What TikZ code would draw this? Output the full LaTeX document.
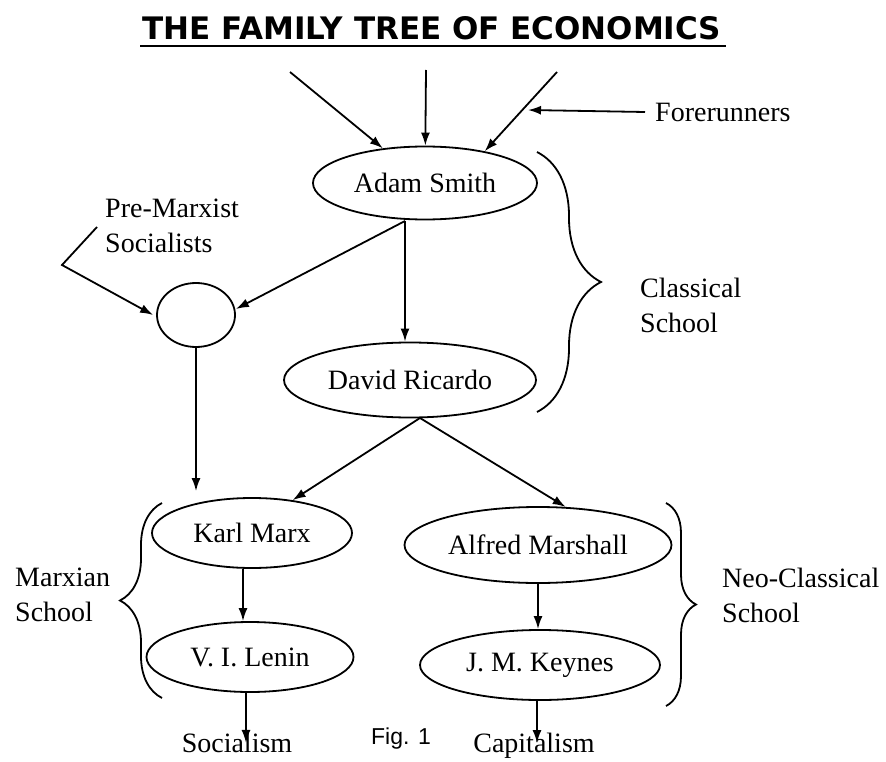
\documentclass[tikz,border=0pt]{standalone}
\usepackage{fontspec}
\setmainfont{Liberation Serif}
\newfontfamily\titlefont{DejaVu Sans}
\newfontfamily\figfont{Liberation Sans}
\usetikzlibrary{shapes.geometric,arrows.meta,decorations.pathreplacing}
\begin{document}
\begin{tikzpicture}[x=1pt,y=-1pt,
  person/.style={ellipse,draw,line width=1.8pt,inner sep=0pt,font=\fontsize{28}{30}\selectfont},
  lbl/.style={font=\fontsize{28}{35}\selectfont,align=left,inner sep=0pt},
  arr/.style={line width=1.8pt,-{Latex[length=13pt,width=9pt]}},
  brc/.style={line width=1.8pt,decorate,decoration={brace,amplitude=#1}}]
\useasboundingbox (0,0) rectangle (886,762);
% title
\node[font=\titlefont\bfseries\fontsize{31}{34}\selectfont,inner sep=0pt] (title) at (432,28) {THE FAMILY TREE OF ECONOMICS};
\coordinate (ul1) at (140,46);
\coordinate (ul2) at (726,46);
\draw[line width=2.5pt] (ul1) -- (ul2);
% nodes
\node[person,minimum width=224pt,minimum height=73pt] (smith) at (425,183) {Adam Smith};
\node[person,minimum width=252pt,minimum height=75pt] (rica) at (410,380) {David Ricardo};
\node[ellipse,draw,line width=1.8pt,minimum width=78pt,minimum height=64pt,inner sep=0pt] (circ) at (196,315) {};
\node[person,minimum width=200pt,minimum height=70pt] (marx) at (252,533) {Karl Marx};
\node[person,minimum width=207pt,minimum height=70pt] (lenin) at (250,657) {V. I. Lenin};
\node[person,minimum width=267pt,minimum height=76pt] (marsh) at (538,545) {Alfred Marshall};
\node[person,minimum width=240pt,minimum height=70pt] (keyn) at (540,665) {J. M. Keynes};
% labels
\node[lbl,anchor=west] (fore) at (655,112) {Forerunners};
\node[lbl,anchor=west] (class) at (640,305) {Classical\\School};
\node[lbl,anchor=west] (prem) at (105,226) {Pre-Marxist\\Socialists};
\node[lbl,anchor=west] (marxian) at (15,595) {Marxian\\School};
\node[lbl,anchor=west] (neo) at (722,595) {Neo-Classical\\School};
\node[lbl] (soc) at (237,743) {Socialism};
\node[lbl] (cap) at (534,746) {Capitalism};
\node[font=\figfont\fontsize{23}{26}\selectfont,inner sep=0pt] (fig) at (401,739) {Fig. 1};
% forerunner arrows
\coordinate (f1) at (290,72);
\coordinate (f2) at (426,70);
\coordinate (f3) at (557,72);
\coordinate (fx) at (528,110);
\draw[arr] (f1) -- (smith);
\draw[arr] (f2) -- (smith);
\draw[arr] (f3) -- (smith.28);
\draw[arr] ([xshift=-10pt]fore.west) -- (fx);
% pre-marxist
\coordinate (pm1) at (97,227);
\coordinate (pm2) at (62,265);
\draw[arr] (pm1) -- (pm2) -- ([xshift=-3pt]circ.west);
% smith arrows
\coordinate (asb) at (405,221);
\draw[arr] (asb) -- ([yshift=6pt]circ.east);
\draw[arr] (asb) -- (asb |- rica.north);
% circle to marx
\draw[arr] (circ.south) -- ([yshift=6pt]circ.south |- marx.north);
% ricardo arrows
\coordinate (rb) at (420,418);
\draw[arr] (rb) -- (marx.39);
\draw[arr] (rb) -- (marsh.54);
% lower arrows
\draw[arr] ([xshift=-9pt]marx.south) -- ([xshift=-9pt]marx.south |- lenin.north);
\draw[arr] ([xshift=-4pt]lenin.south) -- ([xshift=-4pt,yshift=-10pt]lenin.south |- soc.north);
\draw[arr] (marsh.south) -- (marsh.south |- keyn.north);
\draw[arr] ([xshift=-3pt]keyn.south) -- ([xshift=-3pt,yshift=-10pt]keyn.south |- cap.north);
% braces
\coordinate (cb1) at (537,152);
\coordinate (cb2) at (537,412);
\draw[brc=64pt] (cb1) -- (cb2);
\coordinate (mb1) at (162,698);
\coordinate (mb2) at (162,503);
\draw[brc=42pt] (mb1) -- (mb2);
\coordinate (nb1) at (666,503);
\coordinate (nb2) at (666,706);
\draw[brc=30pt] (nb1) -- (nb2);
\end{tikzpicture}
\end{document}
